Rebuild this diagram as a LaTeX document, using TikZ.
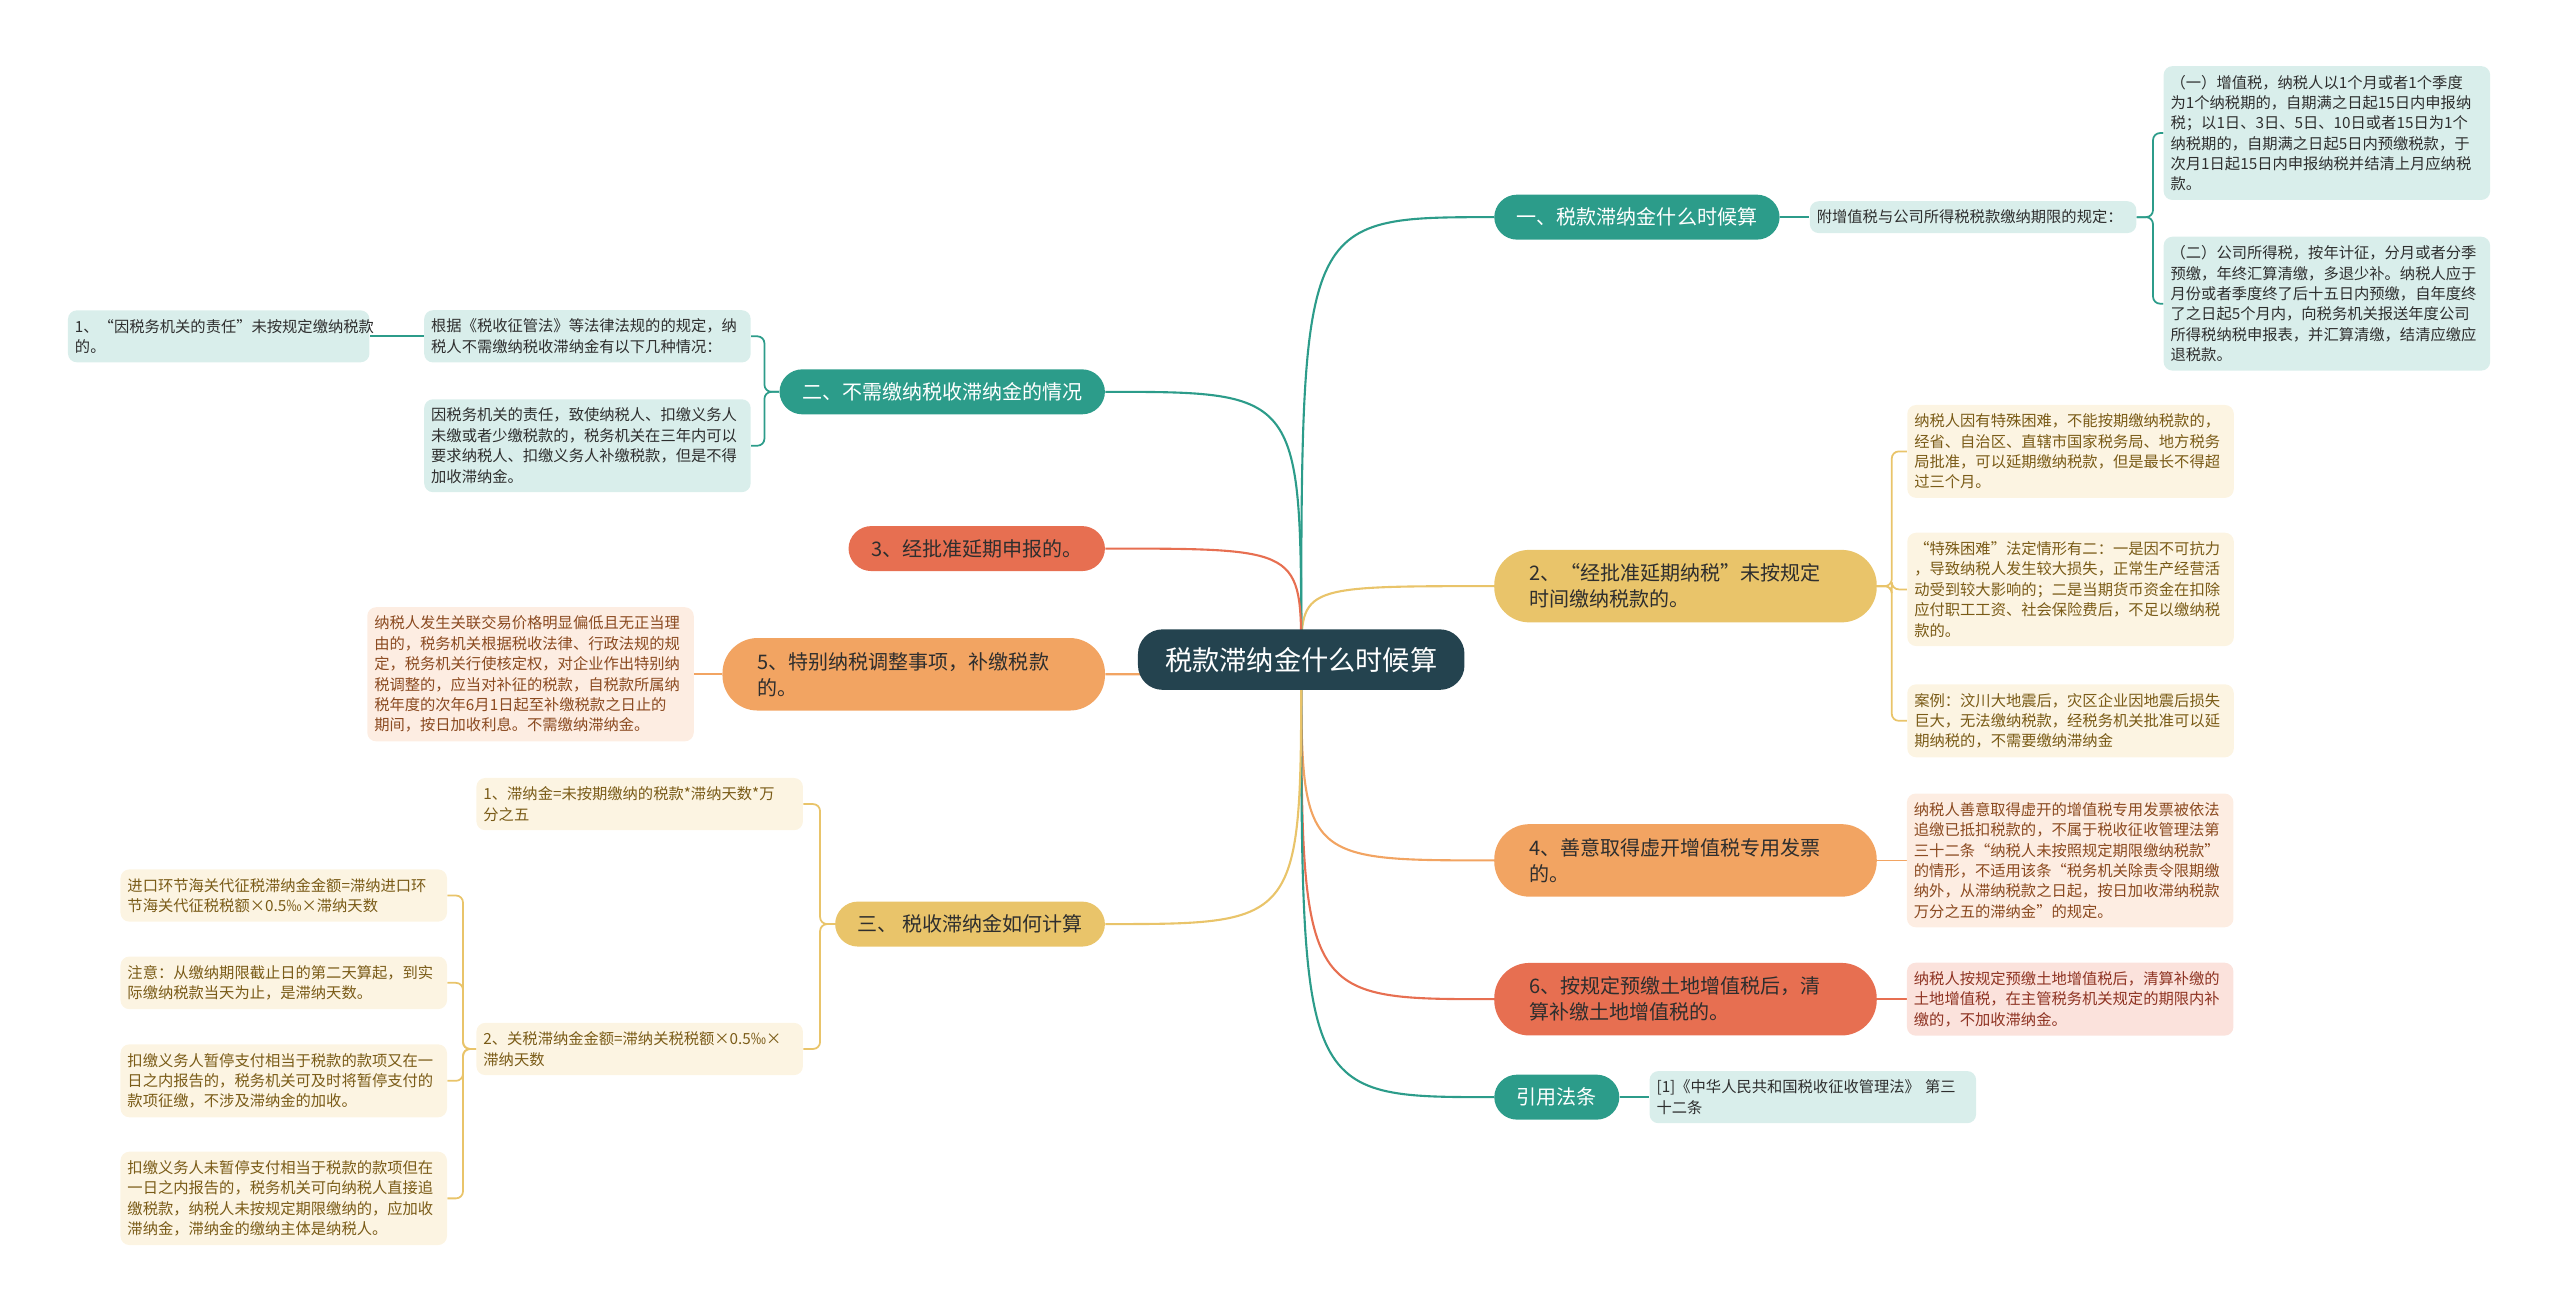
\documentclass[tikz,border=0pt]{standalone}
\usepackage{fontspec}
\setmainfont{Noto Sans CJK SC}
\usepackage{xcolor}
\usetikzlibrary{positioning, backgrounds}

\definecolor{rootc}{HTML}{24434F}
\definecolor{tealc}{HTML}{2C9C8A}
\definecolor{tealpale}{HTML}{D9EEEB}
\definecolor{goldc}{HTML}{E9C46A}
\definecolor{goldpale}{HTML}{FCF4E2}
\definecolor{goldtext}{HTML}{7A5B17}
\definecolor{orangec}{HTML}{F2A462}
\definecolor{orangepale}{HTML}{FDEDE2}
\definecolor{orangetext}{HTML}{8B4A20}
\definecolor{redc}{HTML}{E76F51}
\definecolor{redpale}{HTML}{FBE2DC}
\definecolor{redtext}{HTML}{8E3322}
\definecolor{darktext}{HTML}{2E2E2E}

\begin{document}
\begin{tikzpicture}[
        x=0.03265cm, y=-0.03265cm,
        root/.style={fill=rootc, text=white, rounded corners=14pt, minimum width=6.53cm,
                     minimum height=1.21cm, font=\fontsize{15.5}{18}\selectfont},
        topic/.style={rounded corners=13pt, minimum height=0.9cm, inner xsep=0.45cm,
                      font=\fontsize{11.4}{14.8}\selectfont},
        topictwo/.style={rounded corners=20pt, minimum height=1.45cm, text width=6.25cm,
                         inner xsep=0.7cm, align=left, font=\fontsize{11.4}{14.8}\selectfont},
        tealnode/.style={fill=tealc, text=white},
        goldnode/.style={fill=goldc, text=darktext},
        orangenode/.style={fill=orangec, text=darktext},
        rednode/.style={fill=redc, text=darktext},
        leaf/.style={rounded corners=5pt, text width=6.25cm, inner xsep=0.14cm, inner ysep=5pt,
                     align=left, font=\fontsize{8.7}{11.6}\selectfont},
        tleaf/.style={leaf, fill=tealpale, text=darktext},
        gleaf/.style={leaf, fill=goldpale, text=goldtext},
        oleaf/.style={leaf, fill=orangepale, text=orangetext},
        rleaf/.style={leaf, fill=redpale, text=redtext},
        tline/.style={draw=tealc, line width=1.2pt},
        gline/.style={draw=goldc, line width=1.2pt},
        oline/.style={draw=orangec, line width=1.2pt},
        rline/.style={draw=redc, line width=1.2pt},
        bracket/.style={line width=1pt, rounded corners=4pt}
    ]
        \useasboundingbox (0,0) rectangle (1568,805);

        \node[root] (root) at (797,404) {税款滞纳金什么时候算};

        % right side
        \node[topic, tealnode, anchor=west]      (one)     at (915,133) {一、税款滞纳金什么时候算};
        \node[topictwo, goldnode, anchor=west]   (delay)   at (915,359) {2、“经批准延期纳税”未按规定\\时间缴纳税款的。};
        \node[topictwo, orangenode, anchor=west] (invoice) at (915,527) {4、善意取得虚开增值税专用发票\\的。};
        \node[topictwo, rednode, anchor=west]    (land)    at (915,612) {6、按规定预缴土地增值税后，清\\算补缴土地增值税的。};
        \node[topic, tealnode, anchor=west]      (law)     at (915,672) {引用法条};

        \node[tleaf, right=0.59cm of one] (rule) {附增值税与公司所得税税款缴纳期限的规定：};
        \node[tleaf, anchor=west] (vat) at (1325,81.5)
            {（一）增值税，纳税人以1个月或者1个季度\\为1个纳税期的，自期满之日起15日内申报纳\\税；以1日、3日、5日、10日或者15日为1个\\纳税期的，自期满之日起5日内预缴税款，于\\次月1日起15日内申报纳税并结清上月应纳税\\款。};
        \node[tleaf, anchor=west] (cit) at (1325,186)
            {（二）公司所得税，按年计征，分月或者分季\\预缴，年终汇算清缴，多退少补。纳税人应于\\月份或者季度终了后十五日内预缴，自年度终\\了之日起5个月内，向税务机关报送年度公司\\所得税纳税申报表，并汇算清缴，结清应缴应\\退税款。};

        \node[gleaf, anchor=west] (hard) at (1168,276.5)
            {纳税人因有特殊困难，不能按期缴纳税款的，\\经省、自治区、直辖市国家税务局、地方税务\\局批准，可以延期缴纳税款，但是最长不得超\\过三个月。};
        \node[gleaf, anchor=west] (cases) at (1168,361)
            {“特殊困难”法定情形有二：一是因不可抗力\\，导致纳税人发生较大损失，正常生产经营活\\动受到较大影响的；二是当期货币资金在扣除\\应付职工工资、社会保险费后，不足以缴纳税\\款的。};
        \node[gleaf, anchor=west] (quake) at (1168,441.5)
            {案例：汶川大地震后，灾区企业因地震后损失\\巨大，无法缴纳税款，经税务机关批准可以延\\期纳税的，不需要缴纳滞纳金};

        \node[oleaf, right=0.59cm of invoice] (invoicenote)
            {纳税人善意取得虚开的增值税专用发票被依法\\追缴已抵扣税款的，不属于税收征收管理法第\\三十二条“纳税人未按照规定期限缴纳税款”\\的情形，不适用该条“税务机关除责令限期缴\\纳外，从滞纳税款之日起，按日加收滞纳税款\\万分之五的滞纳金”的规定。};
        \node[rleaf, right=0.59cm of land] (landnote)
            {纳税人按规定预缴土地增值税后，清算补缴的\\土地增值税，在主管税务机关规定的期限内补\\缴的，不加收滞纳金。};
        \node[tleaf, right=0.59cm of law] (lawref)
            {[1]《中华人民共和国税收征收管理法》 第三\\十二条};

        % left side
        \node[topic, tealnode, anchor=east]      (two)     at (677,240) {二、不需缴纳税收滞纳金的情况};
        \node[topic, rednode, anchor=east]       (report)  at (677,336) {3、经批准延期申报的。};
        \node[topictwo, orangenode, anchor=east] (special) at (677,413) {5、特别纳税调整事项，补缴税款\\的。};
        \node[topic, goldnode, anchor=east]      (three)   at (677,566) {三、 税收滞纳金如何计算};

        \node[tleaf, anchor=east] (basis) at (460,206)
            {根据《税收征管法》等法律法规的的规定，纳\\税人不需缴纳税收滞纳金有以下几种情况：};
        \node[tleaf, anchor=east] (duty) at (460,273)
            {因税务机关的责任，致使纳税人、扣缴义务人\\未缴或者少缴税款的，税务机关在三年内可以\\要求纳税人、扣缴义务人补缴税款，但是不得\\加收滞纳金。};
        \node[tleaf, text width=5.75cm, left=1.08cm of basis] (dutyone)
            {1、“因税务机关的责任”未按规定缴纳税款\\的。};

        \node[oleaf, left=0.56cm of special] (specialnote)
            {纳税人发生关联交易价格明显偏低且无正当理\\由的，税务机关根据税收法律、行政法规的规\\定，税务机关行使核定权，对企业作出特别纳\\税调整的，应当对补征的税款，自税款所属纳\\税年度的次年6月1日起至补缴税款之日止的\\期间，按日加收利息。不需缴纳滞纳金。};

        \node[gleaf, anchor=east] (formula) at (492,492.5)
            {1、滞纳金=未按期缴纳的税款*滞纳天数*万\\分之五};
        \node[gleaf, anchor=east] (customs) at (492,642.5)
            {2、关税滞纳金金额=滞纳关税税额×0.5‰×\\滞纳天数};
        \node[gleaf, anchor=east] (import) at (274,548.5)
            {进口环节海关代征税滞纳金金额=滞纳进口环\\节海关代征税税额×0.5‰×滞纳天数};
        \node[gleaf, anchor=east] (notice) at (274,602)
            {注意：从缴纳期限截止日的第二天算起，到实\\际缴纳税款当天为止，是滞纳天数。};
        \node[gleaf, anchor=east] (withheld) at (274,662)
            {扣缴义务人暂停支付相当于税款的款项又在一\\日之内报告的，税务机关可及时将暂停支付的\\款项征缴，不涉及滞纳金的加收。};
        \node[gleaf, anchor=east] (unwithheld) at (274,734)
            {扣缴义务人未暂停支付相当于税款的款项但在\\一日之内报告的，税务机关可向纳税人直接追\\缴税款，纳税人未按规定期限缴纳的，应加收\\滞纳金，滞纳金的缴纳主体是纳税人。};

        \begin{scope}[on background layer]
            % root to topics
            \draw[tline] (root.center) .. controls (root.center |- one.west) .. (one.west);
            \draw[gline] (root.center) .. controls (root.center |- delay.west) .. (delay.west);
            \draw[oline] (root.center) .. controls (root.center |- invoice.west) .. (invoice.west);
            \draw[rline] (root.center) .. controls (root.center |- land.west) .. (land.west);
            \draw[tline] (root.center) .. controls (root.center |- law.west) .. (law.west);
            \draw[tline] (root.center) .. controls (root.center |- two.east) .. (two.east);
            \draw[rline] (root.center) .. controls (root.center |- report.east) .. (report.east);
            \draw[oline] (root.center) .. controls (root.center |- special.east) .. (special.east);
            \draw[gline] (root.center) .. controls (root.center |- three.east) .. (three.east);

            % topics to leaves
            \draw[tline, line width=1pt] (one.east) -- (rule.west);
            \draw[tline, bracket] (rule.east) -- ++(10,0) |- (vat.west);
            \draw[tline, bracket] (rule.east) -- ++(10,0) |- (cit.west);
            \draw[gline, bracket] (delay.east) -- ++(9,0) |- (hard.west);
            \draw[gline, bracket] (delay.east) -- ++(9,0) |- (cases.west);
            \draw[gline, bracket] (delay.east) -- ++(9,0) |- (quake.west);
            \draw[oline, line width=1pt] (invoice.east) -- (invoicenote.west);
            \draw[rline, line width=1pt] (land.east) -- (landnote.west);
            \draw[tline, line width=1pt] (law.east) -- (lawref.west);

            \draw[tline, bracket] (two.west) -- ++(-9,0) |- (basis.east);
            \draw[tline, bracket] (two.west) -- ++(-9,0) |- (duty.east);
            \draw[tline, line width=1pt] (basis.west) -- (dutyone.east);
            \draw[oline, line width=1pt] (special.west) -- (specialnote.east);
            \draw[gline, bracket] (three.west) -- ++(-9,0) |- (formula.east);
            \draw[gline, bracket] (three.west) -- ++(-9,0) |- (customs.east);
            \draw[gline, bracket] (customs.west) -- ++(-8,0) |- (import.east);
            \draw[gline, bracket] (customs.west) -- ++(-8,0) |- (notice.east);
            \draw[gline, bracket] (customs.west) -- ++(-8,0) |- (withheld.east);
            \draw[gline, bracket] (customs.west) -- ++(-8,0) |- (unwithheld.east);
        \end{scope}
    \end{tikzpicture}
\end{document}
